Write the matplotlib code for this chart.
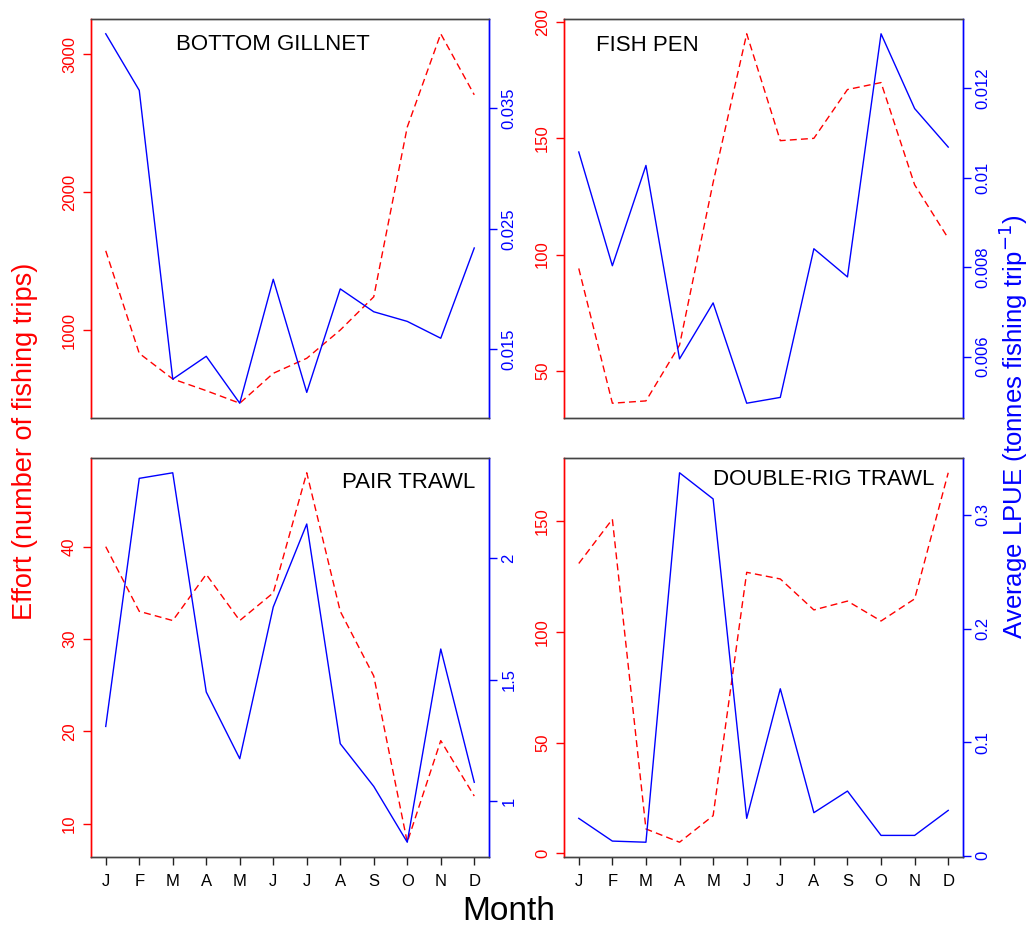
import matplotlib
matplotlib.use("Agg")
import matplotlib.pyplot as plt
from matplotlib.ticker import FixedLocator, FixedFormatter

plt.rcParams['font.family'] = ['Liberation Sans', 'DejaVu Sans']

months = ["J", "F", "M", "A", "M", "J", "J", "A", "S", "O", "N", "D"]
month_idx = list(range(1, 13))

titles = ["BOTTOM GILLNET", "FISH PEN", "PAIR TRAWL", "DOUBLE-RIG TRAWL"]

gillnet_effort = [1575, 831, 645, 560, 469, 686, 795, 1000, 1241, 2473, 3150, 2707]
gillnet_lpue = [0.0412, 0.0365, 0.0125, 0.0144, 0.0105, 0.0208, 0.0114, 0.0200, 0.0181, 0.0173, 0.0159, 0.0234]

fishpen_effort = [94, 36, 37, 61, 131, 195, 149, 150, 171, 174, 130, 107]
fishpen_lpue = [0.01057, 0.00803, 0.01027, 0.00595, 0.0072, 0.00496, 0.00509, 0.00841, 0.00778, 0.01321, 0.01154, 0.01068]

pair_effort = [40, 33, 32, 37, 32, 35, 48, 33, 26, 8, 19, 13]
pair_lpue = [1.308, 2.330, 2.353, 1.450, 1.175, 1.80, 2.142, 1.237, 1.061, 0.831, 1.627, 1.078]

drt_effort = [131, 151, 11, 5, 17, 127, 124, 110, 114, 105, 115, 172]
drt_lpue = [0.033, 0.013, 0.012, 0.337, 0.314, 0.033, 0.147, 0.038, 0.057, 0.018, 0.018, 0.040]

left_ticks = [[1000, 2000, 3000], [50, 100, 150, 200], [10, 20, 30, 40], [0, 50, 100, 150]]
left_labels = [["1000", "2000", "3000"], ["50", "100", "150", "200"], ["10", "20", "30", "40"], ["0", "50", "100", "150"]]
right_ticks = [[0.015, 0.025, 0.035], [0.006, 0.008, 0.010, 0.012], [1.0, 1.5, 2.0], [0.0, 0.1, 0.2, 0.3]]
right_labels = [["0.015", "0.025", "0.035"], ["0.006", "0.008", "0.01", "0.012"], ["1", "1.5", "2"], ["0", "0.1", "0.2", "0.3"]]

efforts = [gillnet_effort, fishpen_effort, pair_effort, drt_effort]
lpues = [gillnet_lpue, fishpen_lpue, pair_lpue, drt_lpue]

W, H = 1032, 927
fig = plt.figure(figsize=(W / 100, H / 100), dpi=100)

# panel boxes in pixels: (left, top, right, bottom)
boxes = [(91, 19, 489, 418), (564, 19, 963, 418), (91, 458, 489, 857), (564, 458, 963, 857)]
title_pos = [(0.458, 0.937, 'center'), (0.079, 0.934, 'left'), (0.965, 0.939, 'right'), (0.929, 0.946, 'right')]

RED = '#FF0000'
BLUE = '#0000FF'

for i in range(4):
    l, t, r, b = boxes[i]
    ax = fig.add_axes([l / W, 1 - b / H, (r - l) / W, (b - t) / H])
    ax.plot(month_idx, efforts[i], color=RED, lw=1.0, linestyle=(0, (5, 3)))
    ax.margins(x=0.04, y=0.04)
    ax2 = ax.twinx()
    ax2.plot(month_idx, lpues[i], color=BLUE, lw=1.0)
    ax2.margins(x=0.04, y=0.04)

    for a in (ax, ax2):
        for s in ('top', 'bottom'):
            a.spines[s].set_color('#444444')
            a.spines[s].set_linewidth(1.0)
        a.spines['left'].set_color(RED)
        a.spines['right'].set_color(BLUE)
        a.spines['left'].set_linewidth(1.0)
        a.spines['right'].set_linewidth(1.0)

    ax.yaxis.set_major_locator(FixedLocator(left_ticks[i]))
    ax.yaxis.set_major_formatter(FixedFormatter(left_labels[i]))
    ax.tick_params(axis='y', colors=RED, labelsize=12, length=6, width=1, pad=4, labelrotation=90)
    for lab in ax.get_yticklabels():
        lab.set_va('center')

    ax2.yaxis.set_major_locator(FixedLocator(right_ticks[i]))
    ax2.yaxis.set_major_formatter(FixedFormatter(right_labels[i]))
    ax2.tick_params(axis='y', colors=BLUE, labelsize=12, length=6, width=1, pad=3, labelrotation=90)
    for lab in ax2.get_yticklabels():
        lab.set_va('center')

    ax.set_xticks(month_idx)
    if i >= 2:
        ax.set_xticklabels(months)
        ax.tick_params(axis='x', colors='#222222', labelcolor='black', labelsize=12, length=6, width=1, pad=6)
    else:
        ax.tick_params(axis='x', bottom=False, labelbottom=False)

    tx, ty, ha = title_pos[i]
    ax2.text(tx, ty, titles[i], transform=ax2.transAxes, ha=ha, va='center', fontsize=16, color='black')

fig.text(25 / W, 1 - 441 / H, "Effort (number of fishing trips)", rotation=90, ha='center', va='center',
         fontsize=19.5, color=RED)
fig.text(1013 / W, 1 - 427 / H, "Average LPUE (tonnes fishing trip$^{-1}$)", rotation=90, ha='center', va='center',
         fontsize=18.5, color=BLUE)
fig.text(509 / W, 1 - 920 / H, "Month", ha='center', va='baseline', fontsize=24, color='black')

fig.savefig("out.png", dpi=100)
